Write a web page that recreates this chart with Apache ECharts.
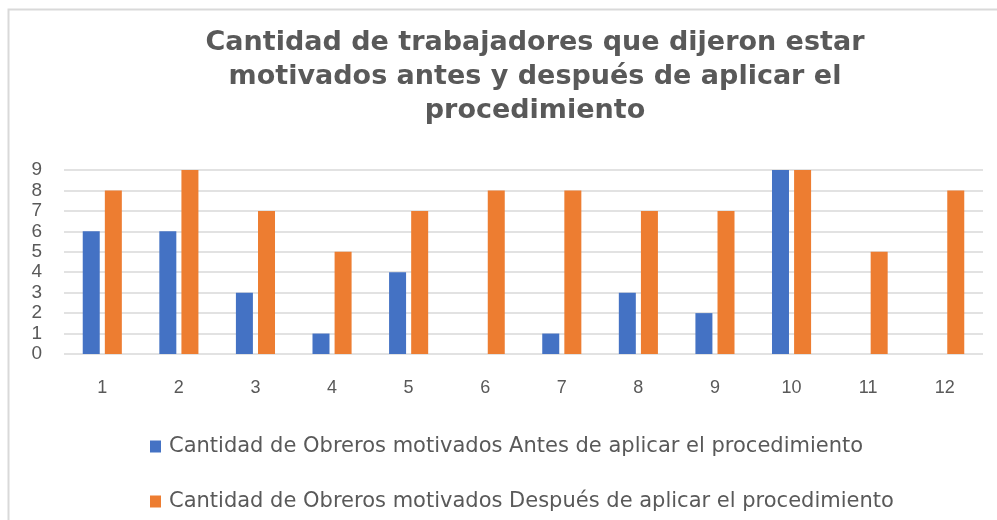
<!DOCTYPE html>
<html>
<head>
<meta charset="utf-8">
<script src="https://cdn.jsdelivr.net/npm/echarts@6/dist/echarts.min.js"></script>
<style>
  html, body { margin: 0; padding: 0; background: #fff; }
  #main { width: 997px; height: 520px; }
</style>
</head>
<body>
<div id="main"></div>
<script>
const categories = ['1', '2', '3', '4', '5', '6', '7', '8', '9', '10', '11', '12'];
const antesValues = [6, 6, 3, 1, 4, 0, 1, 3, 2, 9, 0, 0];
const despuesValues = [8, 9, 7, 5, 7, 8, 8, 7, 7, 9, 5, 8];
const seriesNames = [
    'Cantidad de Obreros motivados Antes de aplicar el procedimiento',
    'Cantidad de Obreros motivados Después de aplicar el procedimiento'
];
const yTicks = [0, 1, 2, 3, 4, 5, 6, 7, 8, 9];

const chart = echarts.init(document.getElementById('main'));
const textColor = '#595959';

const option = {
    animation: false,
    backgroundColor: '#fff',
    graphic: [{
        type: 'rect',
        shape: {x: 8.5, y: 9.5, width: 1100, height: 600},
        style: {fill: 'none', stroke: '#d9d9d9', lineWidth: 2},
        silent: true
    }],
    title: {
        text: 'Cantidad de trabajadores que dijeron estar\nmotivados antes y después de aplicar el\nprocedimiento',
        left: 530,
        textAlign: 'center',
        top: 21,
        textStyle: {
            color: textColor,
            fontSize: 27,
            fontWeight: 'bold',
            fontFamily: 'DejaVu Sans',
            lineHeight: 34
        }
    },
    legend: {
        orient: 'vertical',
        left: 145,
        top: 431,
        itemWidth: 11,
        itemHeight: 12,
        itemGap: 34,
        icon: 'rect',
        data: seriesNames,
        textStyle: {color: textColor, fontSize: 21, fontFamily: 'DejaVu Sans', padding: [0, 0, 0, 3]}
    },
    grid: {left: 64, right: 14, top: 170, bottom: 166},
    xAxis: {
        type: 'category',
        data: categories,
        axisLine: {show: false},
        axisTick: {show: false},
        axisLabel: {color: textColor, fontSize: 18, margin: 25, fontFamily: 'Liberation Sans'}
    },
    yAxis: {
        type: 'value',
        min: yTicks[0],
        max: yTicks[yTicks.length - 1],
        interval: 1,
        axisLabel: {color: textColor, fontSize: 19, margin: 22, fontFamily: 'Liberation Sans'},
        splitLine: {lineStyle: {color: '#d9d9d9', width: 1.5}}
    },
    series: [
        {
            name: seriesNames[0],
            type: 'bar',
            data: antesValues,
            barWidth: 17,
            barGap: '30%',
            itemStyle: {color: '#4472C4'}
        },
        {
            name: seriesNames[1],
            type: 'bar',
            data: despuesValues,
            barWidth: 17,
            itemStyle: {color: '#ED7D31'}
        }
    ]
};

chart.setOption(option);
</script>
</body>
</html>
